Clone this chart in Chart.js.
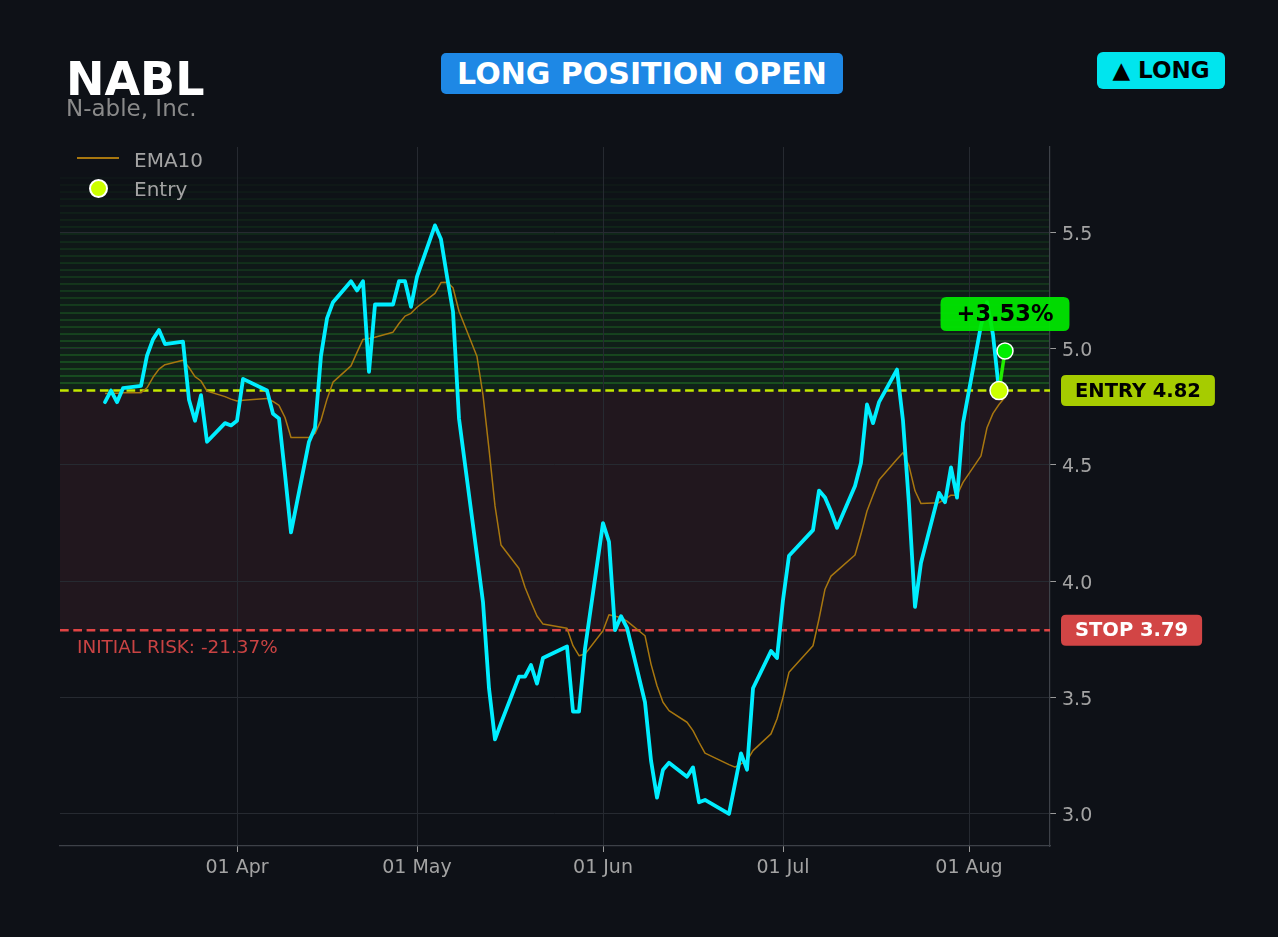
<!DOCTYPE html>
<html>
<head>
<meta charset="utf-8">
<script src="https://cdn.jsdelivr.net/npm/chart.js@4.4.1/dist/chart.umd.min.js"></script>
<style>
html,body{margin:0;padding:0;background:#0e1117;width:1278px;height:937px;overflow:hidden;font-family:"DejaVu Sans",sans-serif;}
#wrap{position:absolute;left:0;top:0;width:1278px;height:937px;}
.abs{position:absolute;white-space:nowrap;line-height:1;}
#ticker{left:66px;top:56px;font-size:46px;font-weight:bold;color:#ffffff;}
#company{left:66px;top:97px;font-size:23px;color:#8a8a8a;}
#status{left:441px;top:53px;width:402px;height:41px;background:#1e88e5;border-radius:5px;color:#fff;font-weight:bold;font-size:30px;display:flex;align-items:center;justify-content:center;}
#side{left:1097px;top:52px;width:128px;height:37px;background:#00e5ee;border-radius:6px;color:#000;font-weight:bold;font-size:23px;display:flex;align-items:center;justify-content:center;}
.leg{font-size:20px;color:#a3a3a3;}
#legLine{left:77px;top:157px;width:42px;height:2px;background:#a8770f;}
#legDot{left:89px;top:179px;width:15px;height:15px;border-radius:50%;background:#ccff00;border:2px solid #ffffff;}
#legT1{left:134px;top:150px;}
#legT2{left:134px;top:179px;}
</style>
</head>
<body>
<div id="wrap"><canvas id="c" width="1278" height="937"></canvas></div>
<div class="abs" id="ticker">NABL</div>
<div class="abs" id="company">N-able, Inc.</div>
<div class="abs" id="status">LONG POSITION OPEN</div>
<div class="abs" id="side">▲ LONG</div>
<div class="abs" id="legLine"></div>
<div class="abs" id="legDot"></div>
<div class="abs leg" id="legT1">EMA10</div>
<div class="abs leg" id="legT2">Entry</div>
<script>
// ---------------- DATA ----------------
const tradeDates = [
 '2026-03-10','2026-03-11','2026-03-12','2026-03-13','2026-03-16','2026-03-17','2026-03-18','2026-03-19','2026-03-20','2026-03-23','2026-03-24','2026-03-25','2026-03-26','2026-03-27','2026-03-30','2026-03-31',
 '2026-04-01','2026-04-02','2026-04-06','2026-04-07','2026-04-08','2026-04-09','2026-04-10','2026-04-13','2026-04-14','2026-04-15','2026-04-16','2026-04-17','2026-04-20','2026-04-21','2026-04-22','2026-04-23','2026-04-24','2026-04-27','2026-04-28','2026-04-29','2026-04-30',
 '2026-05-01','2026-05-04','2026-05-05','2026-05-06','2026-05-07','2026-05-08','2026-05-11','2026-05-12','2026-05-13','2026-05-14','2026-05-15','2026-05-18','2026-05-19','2026-05-20','2026-05-21','2026-05-22','2026-05-26','2026-05-27','2026-05-28','2026-05-29',
 '2026-06-01','2026-06-02','2026-06-03','2026-06-04','2026-06-05','2026-06-08','2026-06-09','2026-06-10','2026-06-11','2026-06-12','2026-06-15','2026-06-16','2026-06-17','2026-06-18','2026-06-22','2026-06-23','2026-06-24','2026-06-25','2026-06-26','2026-06-29','2026-06-30',
 '2026-07-01','2026-07-02','2026-07-06','2026-07-07','2026-07-08','2026-07-09','2026-07-10','2026-07-13','2026-07-14','2026-07-15','2026-07-16','2026-07-17','2026-07-20','2026-07-21','2026-07-22','2026-07-23','2026-07-24','2026-07-27','2026-07-28','2026-07-29','2026-07-30','2026-07-31',
 '2026-08-03','2026-08-04','2026-08-05','2026-08-06','2026-08-07'
];
const closePrices = [
 4.77,4.82,4.77,4.83,4.84,4.97,5.04,5.08,5.02,5.03,4.78,4.69,4.80,4.60,4.68,4.67,
 4.69,4.87,4.82,4.72,4.70,4.46,4.21,4.60,4.66,4.97,5.13,5.20,5.29,5.25,5.29,4.90,5.19,5.19,5.29,5.29,5.18,
 5.31,5.53,5.47,5.31,5.16,4.70,4.11,3.91,3.54,3.32,3.39,3.59,3.59,3.64,3.56,3.67,3.72,3.44,3.44,3.71,
 4.25,4.17,3.79,3.85,3.80,3.48,3.23,3.07,3.19,3.22,3.16,3.20,3.05,3.06,3.00,3.13,3.26,3.19,3.54,3.70,3.67,
 3.92,4.11,4.22,4.39,4.36,4.30,4.23,4.41,4.51,4.76,4.68,4.77,4.91,4.69,4.33,3.89,4.08,4.38,4.34,4.49,4.36,4.68,
 5.10,5.20,5.06,4.82,null
];
const ema10Values = [
 4.807,4.808,4.808,4.811,4.811,4.832,4.877,4.912,4.931,4.950,4.919,4.880,4.861,4.818,4.794,4.783,
 4.775,4.778,4.786,4.773,4.756,4.704,4.618,4.618,4.636,4.692,4.783,4.856,4.926,4.984,5.040,5.044,5.049,5.071,5.108,5.140,5.152,
 5.178,5.238,5.284,5.286,5.262,5.161,4.966,4.800,4.568,4.324,4.156,4.055,3.974,3.911,3.851,3.816,3.798,3.723,3.680,3.687,
 3.787,3.856,3.850,3.844,3.829,3.766,3.644,3.551,3.480,3.444,3.394,3.358,3.308,3.261,3.212,3.201,3.215,3.229,3.272,3.344,3.408,
 3.501,3.609,3.723,3.838,3.966,4.022,4.045,4.113,4.203,4.302,4.370,4.435,4.525,4.553,4.496,4.389,4.334,4.338,4.353,4.370,4.370,4.425,
 4.539,4.660,4.722,4.760,4.791
];
const entryDate = '2026-08-06';
const entryPrice = 4.82;
const currentDate = '2026-08-07';
const currentPrice = 4.99;
const stopPrice = 3.79;
const pnlText = '+3.53%';
const riskText = 'INITIAL RISK: -21.37%';
const monthTickDates = ['2026-04-01','2026-05-01','2026-06-01','2026-07-01','2026-08-01'];
const monthTickLabels = ['01 Apr','01 May','01 Jun','01 Jul','01 Aug'];
const yTickValues = [3.0,3.5,4.0,4.5,5.0,5.5];
const xRangeDates = ['2026-03-02','2026-08-15'];
const yRange = [2.862, 5.867];

// ---------------- HELPERS ----------------
const DAY = 86400000;
const base = Date.UTC(2026,3,1);
function dayNum(s){const [Y,M,D]=s.split('-').map(Number);return (Date.UTC(Y,M-1,D)-base)/DAY;}
const FONT = '"DejaVu Sans", sans-serif';

const priceData = tradeDates.map((d,i)=>({x:dayNum(d),y:closePrices[i]}));
const emaData = tradeDates.map((d,i)=>({x:dayNum(d),y:ema10Values[i]}));
const monthTickVals = monthTickDates.map(dayNum);

function roundRect(ctx,x,y,w,h,r){
  ctx.beginPath();
  ctx.moveTo(x+r,y);ctx.lineTo(x+w-r,y);ctx.quadraticCurveTo(x+w,y,x+w,y+r);
  ctx.lineTo(x+w,y+h-r);ctx.quadraticCurveTo(x+w,y+h,x+w-r,y+h);
  ctx.lineTo(x+r,y+h);ctx.quadraticCurveTo(x,y+h,x,y+h-r);
  ctx.lineTo(x,y+r);ctx.quadraticCurveTo(x,y,x+r,y);ctx.closePath();
}

const zonesPlugin = {
  id:'zones',
  beforeDraw(chart){
    const {ctx, chartArea:a, scales:{y}} = chart;
    ctx.save();
    const yE = y.getPixelForValue(entryPrice), yS = y.getPixelForValue(stopPrice);
    ctx.fillStyle = '#21171e';
    ctx.fillRect(a.left, yE, a.right-a.left, yS-yE);
    const N = 30, step = 0.0305;
    for(let i=0;i<N;i++){
      const p0 = y.getPixelForValue(entryPrice+i*step);
      const p1 = y.getPixelForValue(entryPrice+(i+1)*step);
      const k = 1 - i/N;
      ctx.fillStyle = 'rgba(34,139,40,'+(0.15*k).toFixed(3)+')';
      ctx.fillRect(a.left, p1, a.right-a.left, p0-p1);
      ctx.fillStyle = 'rgba(40,150,45,'+(0.36*k+0.03).toFixed(3)+')';
      ctx.fillRect(a.left, Math.round(p1)-1, a.right-a.left, 2);
    }
    ctx.restore();
  },
  beforeDatasetsDraw(chart){
    const {ctx, chartArea:a, scales:{y}} = chart;
    ctx.save();
    ctx.setLineDash([8.7,4.6]);
    ctx.lineWidth = 2.5;
    ctx.strokeStyle = '#c4e600';
    let py = y.getPixelForValue(entryPrice);
    ctx.beginPath();ctx.moveTo(a.left,py);ctx.lineTo(a.right,py);ctx.stroke();
    ctx.strokeStyle = '#e04444';
    py = y.getPixelForValue(stopPrice);
    ctx.beginPath();ctx.moveTo(a.left,py);ctx.lineTo(a.right,py);ctx.stroke();
    ctx.restore();
  },
  afterDraw(chart){
    const {ctx, chartArea:a, scales:{x,y}} = chart;
    ctx.save();
    ctx.textBaseline = 'middle';
    ctx.font = 'bold 19.5px '+FONT;
    const labs = [
      {t:'ENTRY '+entryPrice.toFixed(2), v:entryPrice, bg:'#a6cc00', fg:'#000000'},
      {t:'STOP '+stopPrice.toFixed(2), v:stopPrice, bg:'#d24545', fg:'#ffffff'}
    ];
    labs.forEach(l=>{
      const w = ctx.measureText(l.t).width + 28;
      const cy = y.getPixelForValue(l.v);
      ctx.fillStyle = l.bg;
      roundRect(ctx, a.right+11, cy-15.5, w, 31, 5); ctx.fill();
      ctx.fillStyle = l.fg;
      ctx.textAlign = 'left';
      ctx.fillText(l.t, a.right+25, cy+1);
    });
    ctx.font = 'bold 22.5px '+FONT;
    const cx = x.getPixelForValue(dayNum(currentDate));
    const cyp = y.getPixelForValue(currentPrice) - 37;
    const pw = ctx.measureText(pnlText).width + 32;
    ctx.fillStyle = 'rgba(0,236,0,0.92)';
    roundRect(ctx, cx-pw/2, cyp-17, pw, 34, 6); ctx.fill();
    ctx.fillStyle = '#000000';
    ctx.textAlign = 'center';
    ctx.fillText(pnlText, cx, cyp+1);
    ctx.font = '18.4px '+FONT;
    ctx.fillStyle = '#c94343';
    ctx.textAlign = 'left';
    ctx.fillText(riskText, a.left+17, y.getPixelForValue(stopPrice)+18);
    ctx.restore();
  }
};

const chart = new Chart(document.getElementById('c'), {
  type:'line',
  data:{
    datasets:[
      {label:'Entry', type:'scatter', data:[{x:dayNum(entryDate),y:entryPrice}], pointRadius:9, pointHoverRadius:9,
       backgroundColor:'#ccff00', borderColor:'#ffffff', borderWidth:1.5, order:0},
      {label:'Current', type:'scatter', data:[{x:dayNum(currentDate),y:currentPrice}], pointRadius:8, pointHoverRadius:8,
       backgroundColor:'#00ee00', borderColor:'#ffffff', borderWidth:1.5, order:1},
      {label:'Move', data:[{x:dayNum(entryDate),y:entryPrice},{x:dayNum(currentDate),y:currentPrice}], borderColor:'#22ee00',
       borderWidth:3.5, pointRadius:0, fill:false, borderCapStyle:'round', order:2},
      {label:'Price', data:priceData, borderColor:'#00eeff', borderWidth:3.8, pointRadius:0, fill:false, tension:0,
       borderJoinStyle:'round', borderCapStyle:'round', spanGaps:false, order:3},
      {label:'EMA10', data:emaData, borderColor:'#a8770f', borderWidth:1.5, pointRadius:0, fill:false, tension:0,
       borderJoinStyle:'round', order:4}
    ]
  },
  options:{
    responsive:false,
    animation:false,
    devicePixelRatio:1,
    layout:{padding:{left:60, top:147, right:0, bottom:0}},
    plugins:{legend:{display:false}, tooltip:{enabled:false}},
    scales:{
      x:{
        type:'linear',
        min:dayNum(xRangeDates[0])+0.5, max:dayNum(xRangeDates[1])-0.5,
        afterBuildTicks:(s)=>{s.ticks = monthTickVals.map(v=>({value:v}));},
        afterFit:(s)=>{s.height = 91;},
        ticks:{autoSkip:false, maxRotation:0, color:'#a3a3a3', font:{family:FONT,size:19}, padding:5,
          callback:(v)=>{const i = monthTickVals.indexOf(v); return i>=0 ? monthTickLabels[i] : '';}},
        grid:{color:'#262a31', lineWidth:1, tickLength:6, tickColor:'#9a9a9a', drawTicks:true},
        border:{display:true, color:'#3d4148', width:1.2}
      },
      y:{
        position:'right',
        min:yRange[0], max:yRange[1],
        afterBuildTicks:(s)=>{s.ticks = yTickValues.map(v=>({value:v}));},
        afterFit:(s)=>{s.width = 228;},
        ticks:{color:'#a3a3a3', font:{family:FONT,size:19}, padding:6, labelOffset:2.5, callback:(v)=>Number(v).toFixed(1)},
        grid:{color:'#262a31', lineWidth:1, tickLength:6, tickColor:'#9a9a9a', drawTicks:true},
        border:{display:true, color:'#3d4148', width:1.2}
      }
    }
  },
  plugins:[zonesPlugin]
});
</script>
</body>
</html>
